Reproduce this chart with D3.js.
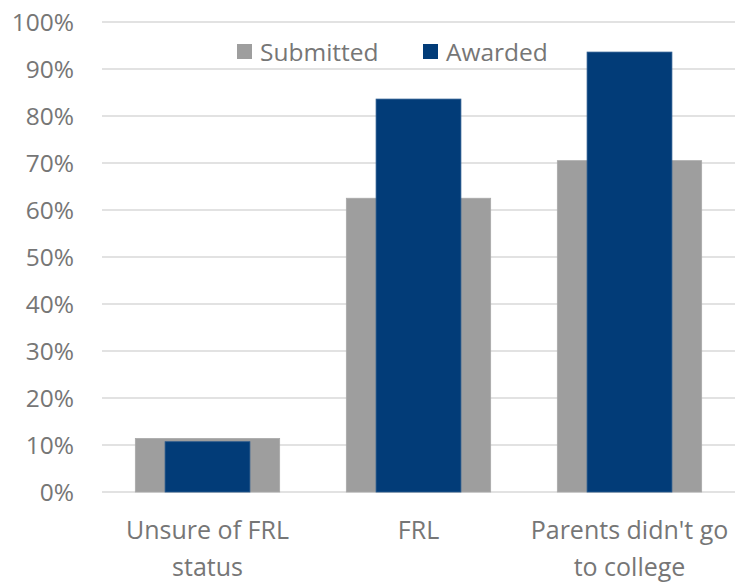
<!DOCTYPE html>
<html>
<head>
<meta charset="utf-8">
<script src="https://cdn.jsdelivr.net/npm/d3@7"></script>
<style>
  body { margin: 0; background: #fff; }
  text { font-family: "Open Sans", "Noto Sans", sans-serif; fill: #767676; }
</style>
</head>
<body>
<div id="chart"></div>
<script>
var categories = [["Unsure of FRL", "status"], ["FRL"], ["Parents didn't go", "to college"]];
var submitted = [0.114, 0.625, 0.705];
var awarded = [0.107, 0.836, 0.936];
var yTicks = [0, 0.1, 0.2, 0.3, 0.4, 0.5, 0.6, 0.7, 0.8, 0.9, 1.0];

var width = 739, height = 583;
var margins = {top: 22, right: 4, bottom: 91, left: 102};

var svg = d3.select("#chart")
    .append("svg")
        .attr("width", width)
        .attr("height", height);

/* Scales */
var x = d3.scaleBand()
    .domain(d3.range(categories.length))
    .range([margins.left, width - margins.right])
    .paddingInner(0)
    .paddingOuter(0);
var y = d3.scaleLinear()
    .domain([0, 1])
    .range([height - margins.bottom, margins.top]);

/* Gridlines */
svg.selectAll(".grid")
    .data(yTicks)
    .enter()
    .append("line")
        .attr("class", "grid")
        .attr("x1", margins.left)
        .attr("x2", width - margins.right)
        .attr("y1", function(d){ return y(d); })
        .attr("y2", function(d){ return y(d); })
        .attr("stroke", "#d9d9d9")
        .attr("stroke-width", 1.5);

/* Y axis labels */
svg.append("g")
    .attr("transform", "translate(" + (margins.left - 28) + ",0)")
    .call(d3.axisLeft(y).tickValues(yTicks).tickFormat(d3.format(".0%")).tickSize(0).tickPadding(0))
    .call(function(g){ g.select(".domain").remove(); })
    .selectAll("text")
        .style("font-size", "24.5px")
        .style("font-family", "'Open Sans', 'Noto Sans', sans-serif")
        .attr("fill", "#767676")
        .attr("dy", "0.35em");

/* Bars */
var bw = x.bandwidth();
var subW = bw * 0.684, awdW = bw * 0.402;

svg.selectAll(".sub")
    .data(submitted)
    .enter()
    .append("rect")
        .attr("class", "sub")
        .attr("x", function(d, i){ return x(i) + (bw - subW) / 2; })
        .attr("width", subW)
        .attr("y", function(d){ return y(d); })
        .attr("height", function(d){ return y(0) - y(d); })
        .attr("fill", "#9e9e9e")
        .attr("stroke", "#a9a9a9")
        .attr("stroke-width", 0.8);

svg.selectAll(".awd")
    .data(awarded)
    .enter()
    .append("rect")
        .attr("class", "awd")
        .attr("x", function(d, i){ return x(i) + (bw - awdW) / 2; })
        .attr("width", awdW)
        .attr("y", function(d){ return y(d); })
        .attr("height", function(d){ return y(0) - y(d); })
        .attr("fill", "#023c78")
        .attr("stroke", "#2a5a8e")
        .attr("stroke-width", 0.8);

/* Category labels */
var cat = svg.selectAll(".cat")
    .data(categories)
    .enter()
    .append("text")
        .attr("class", "cat")
        .attr("text-anchor", "middle")
        .style("font-size", "25px");
cat.selectAll("tspan")
    .data(function(d, i){ return d.map(function(t){ return {t: t, i: i}; }); })
    .enter()
    .append("tspan")
        .attr("x", function(d){ return x(d.i) + bw / 2; })
        .attr("y", function(d, j){ return 539 + j * 37; })
        .text(function(d){ return d.t; });

/* Legend */
var legend = [{name: "Submitted", color: "#9e9e9e", x: 237}, {name: "Awarded", color: "#023c78", x: 423}];
var lg = svg.selectAll(".legend")
    .data(legend)
    .enter()
    .append("g")
        .attr("class", "legend")
        .attr("transform", function(d){ return "translate(" + d.x + ",44)"; });
lg.append("rect")
    .attr("width", 15)
    .attr("height", 15)
    .attr("fill", function(d){ return d.color; });
lg.append("text")
    .attr("x", 23)
    .attr("y", 17)
    .style("font-size", "24.5px")
    .text(function(d){ return d.name; });
</script>
</body>
</html>
